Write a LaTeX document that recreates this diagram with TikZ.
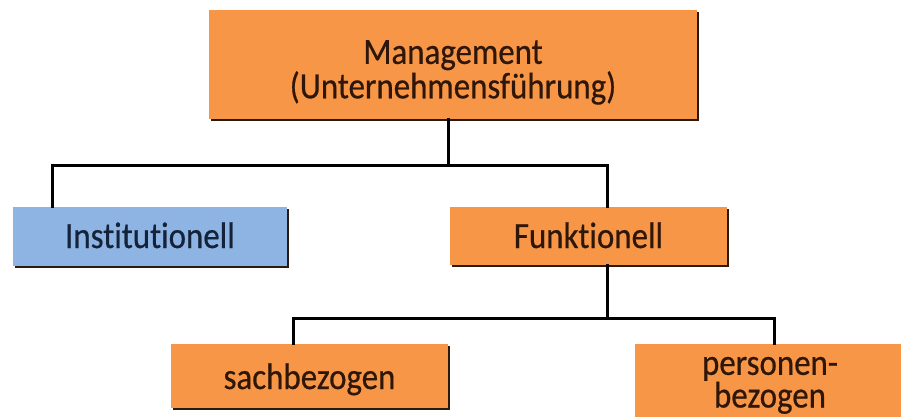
\documentclass[tikz,border=0pt]{standalone}
\usepackage{fontspec}
\setmainfont{Carlito}[FakeStretch=0.89, FakeBold=0.5, Ligatures=NoCommon]
\usetikzlibrary{shadows}
\definecolor{boxorange}{HTML}{F79646}
\definecolor{boxblue}{HTML}{8EB4E3}
\definecolor{edgedark}{HTML}{2A1A10}
\definecolor{inkwarm}{HTML}{2E1608}
\definecolor{inkcool}{HTML}{14223A}
\tikzset{
  orgbox/.style={rectangle, fill=boxorange, draw=none, inner sep=0pt,
    align=center, text=inkwarm,
    font=\fontsize{37}{31}\selectfont,
    drop shadow={shadow xshift=1.6pt, shadow yshift=-1.6pt, fill=edgedark, opacity=1}},
  bluebox/.style={orgbox, fill=boxblue, text=inkcool},
  link/.style={draw=black, line width=3pt, line cap=rect}
}
\begin{document}
\begin{tikzpicture}[x=1pt, y=-1pt]
  \useasboundingbox (0,0) rectangle (901,416);
  % top level
  \node[orgbox, minimum width=488pt, minimum height=109pt,
        text height=70pt, text depth=2.4pt] (mgmt) at (453,64.5)
    {Management\\(Unternehmensführung)};
  % second level
  \node[bluebox, minimum width=274pt, minimum height=59pt,
        text height=27pt, text depth=4pt] (inst) at (150,236.5)
    {Institutionell};
  \node[orgbox, minimum width=277pt, minimum height=58pt,
        text height=28pt, text depth=4pt] (funk) at (588.5,236)
    {Funktionell};
  % third level
  \node[orgbox, minimum width=277pt, minimum height=64pt,
        text height=30pt, text depth=4pt] (sach) at (309.5,376)
    {sachbezogen};
  \node[orgbox, minimum width=270pt, minimum height=86pt,
        font=\fontsize{37}{27}\selectfont,
        text height=45pt, text depth=4pt] (pers) at (770,387)
    {personen-\\bezogen};
  % branch points
  \coordinate (m1) at (448,165);
  \coordinate (l1) at (52,165);
  \coordinate (r1) at (607,165);
  \coordinate (f1) at (607,318);
  \coordinate (l2) at (293,318);
  \coordinate (r2) at (774,318);
  % connectors
  \draw[link] (mgmt.south -| m1) -- (m1);
  \draw[link] (inst.north -| l1) -- (l1) -- (r1) -- (funk.north -| r1);
  \draw[link] (funk.south -| f1) -- (f1);
  \draw[link] (sach.north -| l2) -- (l2) -- (r2) -- (pers.north -| r2);
\end{tikzpicture}
\end{document}
